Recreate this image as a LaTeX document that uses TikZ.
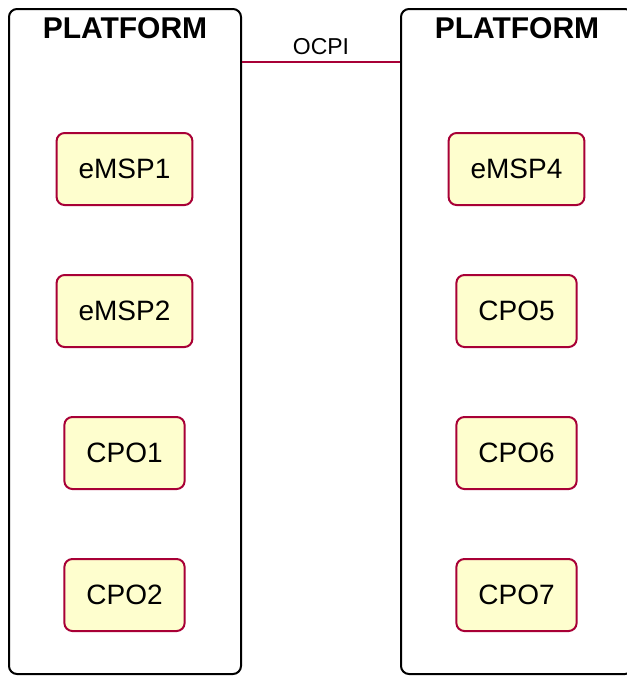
\documentclass[tikz,border=0pt]{standalone}
\usepackage{fontspec}
\setmainfont{Liberation Sans}
\usetikzlibrary{positioning}
\definecolor{umlred}{HTML}{A80036}
\definecolor{umlfill}{HTML}{FEFECE}
\begin{document}
\begin{tikzpicture}[x=0.5pt, y=-0.5pt, line width=1pt,
    platform/.style={draw=black, rounded corners=4pt, minimum width=116pt, minimum height=332.5pt},
    actor/.style={draw=umlred, fill=umlfill, rounded corners=4pt, inner xsep=11pt, minimum height=36pt, font=\fontsize{14}{16}\selectfont},
    title/.style={font=\fontsize{15}{18}\selectfont\bfseries, anchor=base}]
    \useasboundingbox (0,0) rectangle (627,676);
    % the two platforms
    \node[platform] (left) at (125,341.5) {};
    \node[platform] (right) at (517,341.5) {};
    \node[title] (lefttitle) at (125,38) {PLATFORM};
    \node[title] (righttitle) at (517,38) {PLATFORM};
    % members of the left platform
    \node[actor] (emsp1) at (124.5,169) {eMSP1};
    \node[actor, below=34pt of emsp1] (emsp2) {eMSP2};
    \node[actor, below=34pt of emsp2] (cpo1) {CPO1};
    \node[actor, below=34pt of cpo1] (cpo2) {CPO2};
    % members of the right platform
    \node[actor] (emsp4) at (516.5,169) {eMSP4};
    \node[actor, below=34pt of emsp4] (cpo5) {CPO5};
    \node[actor, below=34pt of cpo5] (cpo6) {CPO6};
    \node[actor, below=34pt of cpo6] (cpo7) {CPO7};
    % link
    \draw[umlred, line width=0.7pt] ([yshift=-27pt]left.north east) -- node[above, text=black, font=\fontsize{11.5}{13}\selectfont] (ocpi) {OCPI} ([yshift=-27pt]right.north west);
\end{tikzpicture}
\end{document}
